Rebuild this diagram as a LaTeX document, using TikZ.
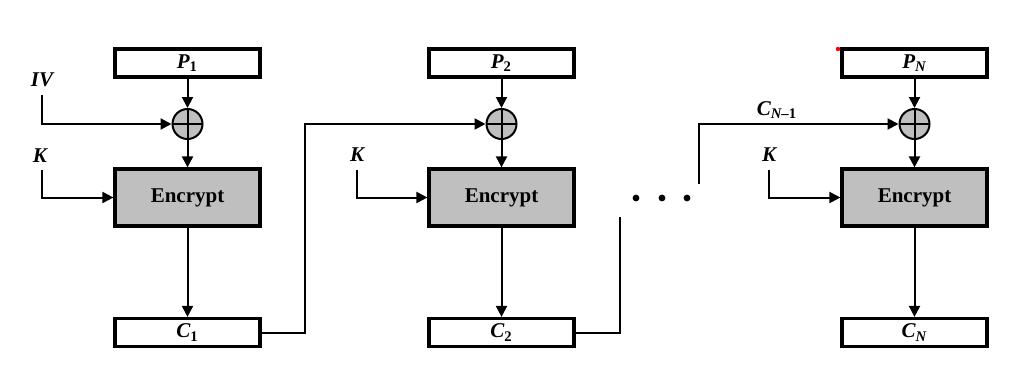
\documentclass[tikz,border=0pt]{standalone}
\usepackage{fontspec}
\setmainfont{Liberation Serif}
\usepackage{tikz}
\usetikzlibrary{positioning,arrows.meta}

% bold italic label with a subscript
\newcommand{\blk}[2]{{\bfseries\itshape #1}\textsubscript{\bfseries #2}}

\begin{document}
\begin{tikzpicture}[
    x=0.5pt, y=-0.5pt,
    font=\fontsize{10.5pt}{12pt}\selectfont\bfseries,
    txtbox/.style={draw, line width=1.6pt, fill=white, minimum width=72.5pt, minimum height=14pt, inner sep=0pt},
    encbox/.style={draw, line width=1.6pt, fill=black!25, minimum width=72.5pt, minimum height=28.5pt, inner sep=0pt},
    xor/.style={draw, line width=1pt, circle, fill=black!25, minimum size=15pt, inner sep=0pt,
        path picture={\draw[line width=1pt] (path picture bounding box.north) -- (path picture bounding box.south)
            (path picture bounding box.west) -- (path picture bounding box.east);}},
    lbl/.style={inner sep=1pt, font=\fontsize{10.5pt}{12pt}\selectfont\bfseries\itshape},
    arr/.style={-{Triangle[length=5.5pt,width=5.5pt]}, line width=1pt},
    wire/.style={line width=1pt},
    dot/.style={fill=black},
]
\useasboundingbox (0,0) rectangle (1015,364);

% first block
\node[txtbox] (p1) at (187.5,63) {\blk{P}{1}};
\node[xor] (x1) at (187.5,124) {};
\node[encbox] (e1) at (187.5,197.5) {Encrypt};
\node[txtbox] (c1) at (187.5,332.5) {\blk{C}{1}};
\node[lbl] (iv) at (42,80) {IV};
\node[lbl] (k1) at (40,156) {K};
\coordinate (ivin) at (42,95);
\coordinate (k1in) at (42,170);

% second block
\node[txtbox] (p2) at (501.5,63) {\blk{P}{2}};
\node[xor] (x2) at (501.5,124) {};
\node[encbox] (e2) at (501.5,197.5) {Encrypt};
\node[txtbox] (c2) at (501.5,332.5) {\blk{C}{2}};
\node[lbl] (k2) at (357,155) {K};
\coordinate (k2in) at (357,170);
\coordinate (c2out) at (620,217);

% last block
\node[txtbox] (pn) at (914.5,63) {\blk{P}{\itshape N}};
\node[xor] (xn) at (914.5,124) {};
\node[encbox] (en) at (914.5,197.5) {Encrypt};
\node[txtbox] (cn) at (914.5,332.5) {\blk{C}{\itshape N}};
\node[lbl] (kn) at (769,155) {K};
\node[lbl] (cprev) at (777,110) {\blk{C}{\itshape N\upshape--1}};
\coordinate (knin) at (769,170);
\coordinate (cnin) at (699,184);

% dots
\fill[dot] (636,198) circle (1.7pt);
\fill[dot] (662,198) circle (1.7pt);
\fill[dot] (687,198) circle (1.7pt);
\fill[red] (838,49) circle (1.1pt);

\draw[arr] (p1) -- (x1);
\draw[arr] (x1) -- (e1);
\draw[arr] (e1) -- (c1);
\draw[arr] (ivin) |- (x1.west);
\draw[arr] (k1in) |- (e1.west);
\draw[arr] (c1.east) -| (305,124) -- (x2.west);

\draw[arr] (p2) -- (x2);
\draw[arr] (x2) -- (e2);
\draw[arr] (e2) -- (c2);
\draw[arr] (k2in) |- (e2.west);
\draw[wire] (c2.east) -| (c2out);

\draw[arr] (pn) -- (xn);
\draw[arr] (xn) -- (en);
\draw[arr] (en) -- (cn);
\draw[arr] (knin) |- (en.west);
\draw[arr] (cnin) |- (xn.west);
\end{tikzpicture}
\end{document}
